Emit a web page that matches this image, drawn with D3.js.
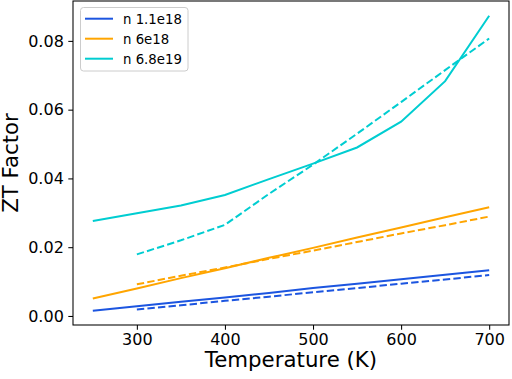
<!DOCTYPE html>
<html><head><meta charset="utf-8">
<script src="https://cdn.jsdelivr.net/npm/d3@7/dist/d3.min.js"></script>
<style>body{margin:0;background:#fff;} svg{display:block;font-family:"DejaVu Sans",sans-serif;}</style>
</head><body>
<svg id="c" width="512" height="379"></svg>
<script>
const tempsSolid = [250,300,350,400,450,500,550,600,650,700];
const tempsDashed = [300,350,400,450,500,550,600,650,700];
const seriesNames = ["n 1.1e18","n 6e18","n 6.8e19"];
const seriesColors = ["#1c55e0","#ffa500","#00cdd1"];
const blueSolid   = [0.0015,0.0028,0.0041,0.0054,0.0067,0.0081,0.0094,0.0107,0.0120,0.0133];
const blueDashed  = [0.0019,0.0031,0.0044,0.0056,0.0069,0.0081,0.0094,0.0106,0.0119];
const orangeSolid = [0.0051,0.0080,0.0110,0.0139,0.0169,0.0198,0.0228,0.0257,0.0287,0.0316];
const orangeDashed= [0.0092,0.0117,0.0141,0.0166,0.0190,0.0215,0.0240,0.0264,0.0289];
const cyanSolid   = [0.0276,0.0299,0.0321,0.0352,0.0398,0.0443,0.0490,0.0565,0.0683,0.0873];
const cyanDashed  = [0.0179,0.0220,0.0265,0.0355,0.0440,0.0530,0.0622,0.0715,0.0807];
const xTicks = [300,400,500,600,700];
const yTicks = [0,0.02,0.04,0.06,0.08];

const L=73, R=509, T=1, B=325;
const svg = d3.select("#c");
const x = d3.scaleLinear().domain([227.5,722.5]).range([L,R]);
const y = d3.scaleLinear().domain([-0.00263,0.0916]).range([B,T]);

const solids=[blueSolid,orangeSolid,cyanSolid], dashes=[blueDashed,orangeDashed,cyanDashed];
const line = d3.line().x(d=>x(d[0])).y(d=>y(d[1]));
solids.forEach((s,i)=>{
  svg.append("path").attr("d",line(tempsSolid.map((t,j)=>[t,s[j]])))
    .attr("fill","none").attr("stroke",seriesColors[i]).attr("stroke-width",2);
});
dashes.forEach((s,i)=>{
  svg.append("path").attr("d",line(tempsDashed.map((t,j)=>[t,s[j]])))
    .attr("fill","none").attr("stroke",seriesColors[i]).attr("stroke-width",2)
    .attr("stroke-dasharray","7.4,3.2");
});

const xa = svg.append("g").attr("transform",`translate(0,${B})`)
  .call(d3.axisBottom(x).tickValues(xTicks).tickSize(4.7).tickPadding(4).tickFormat(d3.format("d")));
const ya = svg.append("g").attr("transform",`translate(${L},0)`)
  .call(d3.axisLeft(y).tickValues(yTicks).tickSize(4.7).tickPadding(4.5).tickFormat(d3.format(".2f")));
[xa,ya].forEach(a=>{
  a.select(".domain").remove();
  a.selectAll("line").attr("stroke","#000").attr("stroke-width",1.05);
  a.selectAll("text").attr("font-size",16).attr("font-family","DejaVu Sans").attr("fill","#000");
});
svg.append("rect").attr("x",L).attr("y",T).attr("width",R-L).attr("height",B-T)
  .attr("fill","none").attr("stroke","#000").attr("stroke-width",1.05);

svg.append("text").attr("x",(L+R)/2).attr("y",367).attr("text-anchor","middle")
  .attr("font-size",21.3).text("Temperature (K)");
svg.append("text").attr("transform",`translate(18,${(T+B)/2}) rotate(-90)`).attr("text-anchor","middle")
  .attr("font-size",21.3).text("ZT Factor");

const lg = svg.append("g");
lg.append("rect").attr("x",80.5).attr("y",7.5).attr("width",107.5).attr("height",63.5).attr("rx",3)
  .attr("fill","#fff").attr("fill-opacity",0.8).attr("stroke","#cccccc").attr("stroke-width",1);
seriesNames.forEach((n,i)=>{
  const yy = 18.7 + i*20;
  lg.append("line").attr("x1",85).attr("x2",113).attr("y1",yy).attr("y2",yy)
    .attr("stroke",seriesColors[i]).attr("stroke-width",2);
  lg.append("text").attr("x",123).attr("y",yy+4.8).attr("font-size",13.3).text(n);
});
</script>
</body></html>
